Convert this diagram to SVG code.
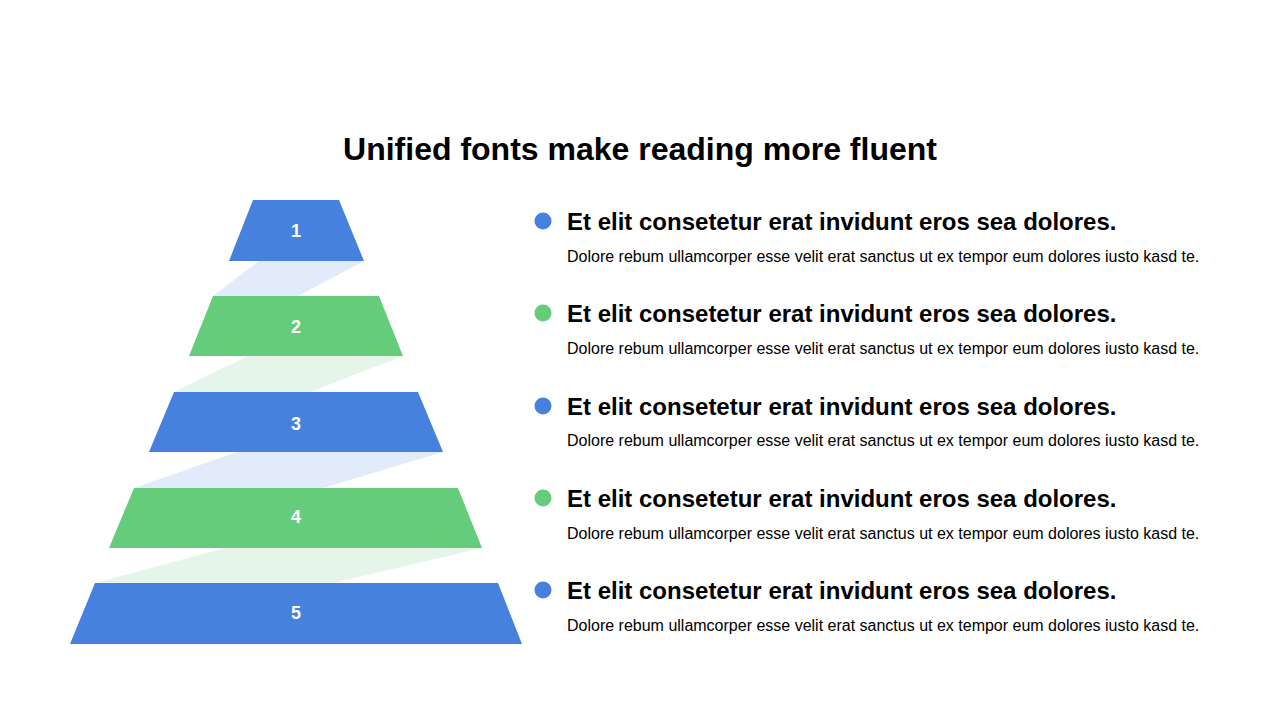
<svg xmlns="http://www.w3.org/2000/svg" width="1280" height="720" viewBox="0 0 1280 720">
<style>
.blue{fill:#4581DD}
.green{fill:#64CC7A}
.lblue{fill:#E2EBFA}
.lgreen{fill:#E5F5EA}
.num{font-family:"Liberation Sans",Arial,sans-serif;font-weight:bold;font-size:18px;fill:#fff;text-anchor:middle}
.title{font-family:"Liberation Sans",Arial,sans-serif;font-weight:bold;font-size:32px;fill:#000;text-anchor:middle}
.head{font-family:"Liberation Sans",Arial,sans-serif;font-weight:bold;font-size:24px;fill:#000}
.body{font-family:"Liberation Sans",Arial,sans-serif;font-size:16px;fill:#000}
</style>
<rect width="1280" height="720" fill="#fff"/>
<text class="title" x="640" y="160">Unified fonts make reading more fluent</text>
<g id="connectors">
<polygon class="lblue" points="259,261 364,261 298,296 213,296"/>
<polygon class="lgreen" points="248,356 403,356 310,392 174,392"/>
<polygon class="lblue" points="237,452 443,452 323,488 134,488"/>
<polygon class="lgreen" points="225,548 482,548 333,583 95,583"/>
</g>
<g id="level1"><polygon class="blue" points="253,200 339,200 364,261 229,261"/><text class="num" x="296" y="237">1</text></g>
<g id="level2"><polygon class="green" points="213,296 379,296 403,356 189,356"/><text class="num" x="296" y="333">2</text></g>
<g id="level3"><polygon class="blue" points="174,392 418,392 443,452 149,452"/><text class="num" x="296" y="430">3</text></g>
<g id="level4"><polygon class="green" points="134,488 458,488 482,548 109,548"/><text class="num" x="296" y="523">4</text></g>
<g id="level5"><polygon class="blue" points="95,583 498,583 522,644 70,644"/><text class="num" x="296" y="619">5</text></g>
<g id="item1"><circle class="blue" cx="543" cy="221" r="8.5"/><text class="head" x="567" y="230">Et elit consetetur erat invidunt eros sea dolores.</text><text class="body" x="567" y="262">Dolore rebum ullamcorper esse velit erat sanctus ut ex tempor eum dolores iusto kasd te.</text></g>
<g id="item2"><circle class="green" cx="543" cy="313" r="8.5"/><text class="head" x="567" y="322">Et elit consetetur erat invidunt eros sea dolores.</text><text class="body" x="567" y="354">Dolore rebum ullamcorper esse velit erat sanctus ut ex tempor eum dolores iusto kasd te.</text></g>
<g id="item3"><circle class="blue" cx="543" cy="406" r="8.5"/><text class="head" x="567" y="415">Et elit consetetur erat invidunt eros sea dolores.</text><text class="body" x="567" y="446">Dolore rebum ullamcorper esse velit erat sanctus ut ex tempor eum dolores iusto kasd te.</text></g>
<g id="item4"><circle class="green" cx="543" cy="498" r="8.5"/><text class="head" x="567" y="507">Et elit consetetur erat invidunt eros sea dolores.</text><text class="body" x="567" y="539">Dolore rebum ullamcorper esse velit erat sanctus ut ex tempor eum dolores iusto kasd te.</text></g>
<g id="item5"><circle class="blue" cx="543" cy="590" r="8.5"/><text class="head" x="567" y="599">Et elit consetetur erat invidunt eros sea dolores.</text><text class="body" x="567" y="631">Dolore rebum ullamcorper esse velit erat sanctus ut ex tempor eum dolores iusto kasd te.</text></g>
</svg>
